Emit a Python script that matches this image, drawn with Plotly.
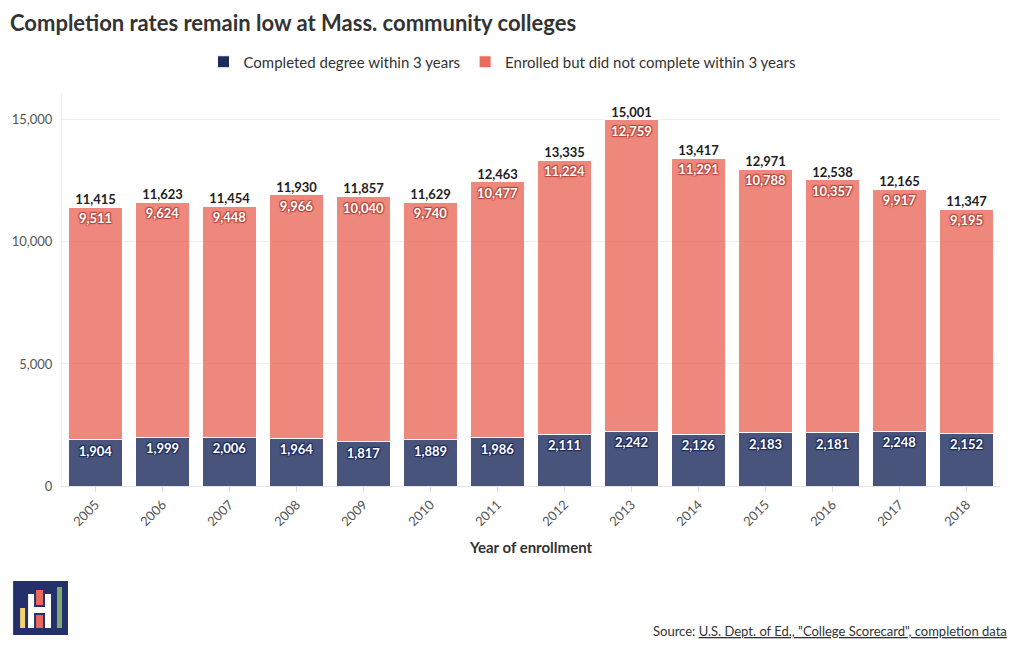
import plotly.graph_objects as go

years = ["2005", "2006", "2007", "2008", "2009", "2010", "2011", "2012", "2013", "2014", "2015", "2016", "2017", "2018"]
completed = [1904, 1999, 2006, 1964, 1817, 1889, 1986, 2111, 2242, 2126, 2183, 2181, 2248, 2152]
not_completed = [9511, 9624, 9448, 9966, 10040, 9740, 10477, 11224, 12759, 11291, 10788, 10357, 9917, 9195]
totals = [11415, 11623, 11454, 11930, 11857, 11629, 12463, 13335, 15001, 13417, 12971, 12538, 12165, 11347]
y_ticks = [0, 5000, 10000, 15000]

FONT = "Lato"
W, H = 1020, 650
ML, MR, MT, MB = 60, 20, 93, 164

fig = go.Figure()

fig.add_trace(go.Bar(
    x=years, y=completed, name="Completed degree within 3 years",
    marker=dict(color="#1c2a5c", opacity=0.8, line=dict(color="white", width=1)),
    text=[f"{v:,}" for v in completed], textposition="inside", insidetextanchor="end",
    textangle=0,
    textfont=dict(family=FONT, size=13, color="white", weight="bold",
                  shadow="1px 1px 1px #1c2a5c, -1px -1px 1px #1c2a5c, 1px -1px 1px #1c2a5c, -1px 1px 1px #1c2a5c"),
    hoverinfo="skip",
))
fig.add_trace(go.Bar(
    x=years, y=not_completed, name="Enrolled but did not complete within 3 years",
    marker=dict(color="#ea6a5c", opacity=0.8, line=dict(color="white", width=1)),
    text=[f"{v:,}" for v in not_completed], textposition="inside", insidetextanchor="end",
    textangle=0,
    textfont=dict(family=FONT, size=13, color="white", weight="bold",
                  shadow="1px 1px 1px #b8463b, -1px -1px 1px #b8463b, 1px -1px 1px #b8463b, -1px 1px 1px #b8463b"),
    hoverinfo="skip",
))
fig.add_trace(go.Scatter(
    x=years, y=totals, mode="text", text=[f"{v:,}" for v in totals],
    textposition="top center", showlegend=False, hoverinfo="skip",
    textfont=dict(family=FONT, size=13, color="#222", weight="bold"),
))

fig.update_layout(
    width=W, height=H,
    margin=dict(l=ML, r=MR, t=MT, b=MB),
    barmode="stack", bargap=0.2,
    plot_bgcolor="white", paper_bgcolor="white",
    font=dict(family=FONT, color="#333"),
    title=dict(text="<b>Completion rates remain low at Mass. community colleges</b>",
               x=10 / W, xref="container", xanchor="left",
               y=1 - 23 / H, yref="container", yanchor="middle",
               font=dict(family=FONT, size=22, color="#333")),
    legend=dict(orientation="h", x=502 / W, xref="container", xanchor="center",
                y=1 - 62 / H, yref="container", yanchor="middle",
                font=dict(family=FONT, size=15, color="#333"), traceorder="normal",
                itemwidth=30),
    xaxis=dict(
        range=[-0.5, len(years) - 0.5],
        title=dict(text="<b>Year of enrollment</b>", font=dict(family=FONT, size=15, color="#333"), standoff=14),
        tickangle=-45, tickfont=dict(family=FONT, size=13, color="#555"),
        showline=True, linecolor="#e4e4e4", linewidth=1,
        ticks="outside", ticklen=5, tickcolor="#ddd",
    ),
    yaxis=dict(
        range=[0, 16100], tickvals=y_ticks, ticktext=[f"{v:,}" for v in y_ticks],
        tickfont=dict(family=FONT, size=13, color="#555"),
        showgrid=True, gridcolor="#eeeeee", zeroline=False,
        showline=True, linecolor="#eeeeee", ticks="", ticklabelstandoff=6,
    ),
)

# source note
fig.add_annotation(
    text='Source: <span style="text-decoration:underline">U.S. Dept. of Ed., "College Scorecard", completion data</span>',
    xref="paper", yref="paper", x=(1009 - ML) / (W - ML - MR), y=-(631 - (H - MB)) / (H - MT - MB),
    xanchor="right", yanchor="middle", showarrow=False,
    font=dict(family=FONT, size=13, color="#333"),
)

# logo drawn with shapes (pixel -> paper coords)
PW, PH = W - ML - MR, H - MT - MB
def px(x):
    return (x - ML) / PW
def py(y):
    return (H - MB - y) / PH
def rect(x0, y0, x1, y1, color):
    fig.add_shape(type="rect", xref="paper", yref="paper",
                  x0=px(x0), x1=px(x1), y0=py(y1), y1=py(y0),
                  fillcolor=color, line=dict(width=0), layer="above")

rect(11, 581, 66, 635, "#24306a")
rect(18, 608, 23, 628, "#f2d36b")
rect(34, 590, 41, 605, "#e8685a")
rect(34, 615, 41, 628, "#e8685a")
rect(55, 587, 60, 628, "#7fa878")
rect(26, 594, 32, 628, "#ffffff")
rect(43, 594, 49, 628, "#ffffff")
rect(32, 607, 43, 613, "#ffffff")

fig.write_html("out.html", config={"displayModeBar": False},
               post_script="document.body.style.margin='0px';document.body.style.overflow='hidden';")
